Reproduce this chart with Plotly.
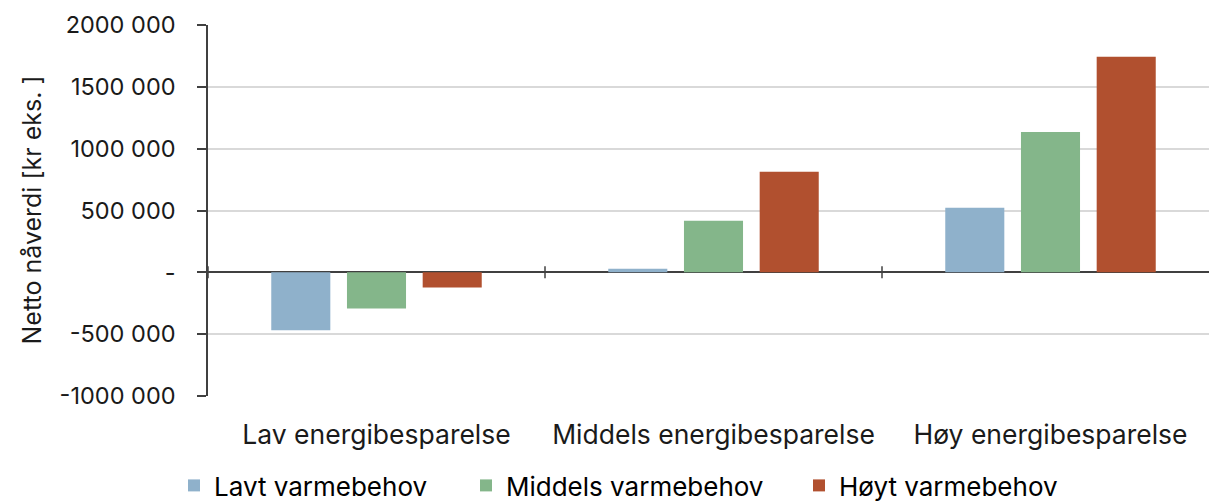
import plotly.graph_objects as go

categories = ["Lav energibesparelse", "Middels energibesparelse", "Høy energibesparelse"]
series_names = ["Lavt varmebehov", "Middels varmebehov", "Høyt varmebehov"]
lavt = [-469000, 28000, 523000]
middels = [-293000, 418000, 1135000]
hoyt = [-122000, 814000, 1744000]
colors = ["#8FB1CB", "#84B68A", "#B1502F"]

y_tick_vals = [-1000000, -500000, 0, 500000, 1000000, 1500000, 2000000]
y_tick_text = ["-1000 000", "-500 000", "-", "500 000", "1000 000", "1500 000", "2000 000"]
y_title = "Netto nåverdi [kr eks. ]"

W, H = 1209, 502
left, right_px, top, bottom_px = 208, 1209, 25, 396
cat_w = 337.0
FONT = "Inter, Liberation Sans, Arial, sans-serif"

# one legend per series so each entry can sit at its own horizontal spot
legend_ids = ["legend", "legend2", "legend3"]
legend_x = [174, 466, 799]

fig = go.Figure()
for name, vals, col, lg in zip(series_names, [lavt, middels, hoyt], colors, legend_ids):
    fig.add_trace(go.Bar(
        x=list(range(len(categories))), y=vals, name=name, legend=lg,
        marker=dict(color=col, line=dict(width=0)),
    ))

# x range: three equal category slots, the last one running off the right edge
x_max = -0.5 + (right_px - left) / cat_w
y_min, y_max = -1000000, 2000000
px_per_unit = (bottom_px - top) / (y_max - y_min)
tick_half = 6 / px_per_unit

shapes = []
for xb in [-0.5, 0.5, 1.5]:
    shapes.append(dict(type="line", xref="x", yref="y", x0=xb, x1=xb,
                       y0=-tick_half, y1=tick_half,
                       line=dict(color="#404040", width=1.5)))

plot_w = right_px - left
plot_h = bottom_px - top
legend_bottom_px = 509
legend_style = dict(
    orientation="h", xref="container", yref="paper",
    xanchor="left", y=-(legend_bottom_px - bottom_px) / plot_h, yanchor="bottom",
    font=dict(family=FONT, size=26, color="#000000"),
    itemwidth=30, bgcolor="rgba(0,0,0,0)",
)
legends = {lg: dict(legend_style, x=lx / W) for lg, lx in zip(legend_ids, legend_x)}

fig.add_annotation(
    text=y_title, textangle=-90, showarrow=False,
    xref="paper", yref="paper", x=(31 - left) / plot_w, y=0.5,
    xanchor="center", yanchor="middle",
    font=dict(family=FONT, size=25, color="#1a1a1a"),
)

fig.update_layout(
    width=W, height=H,
    margin=dict(l=left, r=0, t=top, b=H - bottom_px, pad=0, autoexpand=False),
    paper_bgcolor="white", plot_bgcolor="white",
    barmode="group", bargap=0.326, bargroupgap=0.22,
    font=dict(family=FONT, size=22, color="#1a1a1a"),
    shapes=shapes,
    showlegend=True,
    xaxis=dict(
        range=[-0.5, x_max], tickmode="array",
        tickvals=list(range(len(categories))), ticktext=categories,
        showline=False, showgrid=False, zeroline=False, ticks="",
        ticklabelstandoff=20, tickfont=dict(size=26.5),
    ),
    yaxis=dict(
        range=[y_min, y_max], tickmode="array",
        tickvals=y_tick_vals, ticktext=y_tick_text,
        showgrid=True, gridcolor="#d9d9d9", gridwidth=1.5,
        zeroline=True, zerolinecolor="#404040", zerolinewidth=2,
        showline=True, linecolor="#404040", linewidth=1.5,
        ticks="outside", ticklen=9, tickcolor="#404040", tickwidth=1.5,
        ticklabelstandoff=17, tickfont=dict(size=23.5),
    ),
    **legends,
)

fig.write_html("out.html")
